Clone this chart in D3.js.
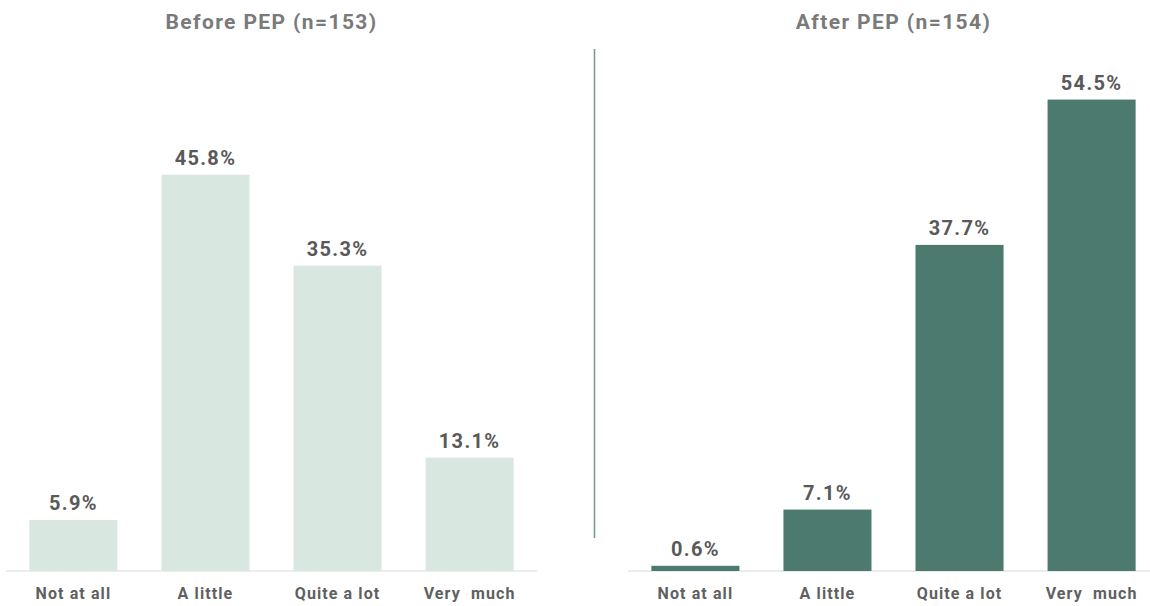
<!DOCTYPE html>
<html>
<head>
<meta charset="utf-8">
<script src="https://cdn.jsdelivr.net/npm/d3@7"></script>
<style>
  html, body { margin: 0; padding: 0; background: #ffffff; }
  svg { display: block; }
  text { font-family: Roboto, "Liberation Sans", Arial, sans-serif; font-weight: 700; }
</style>
</head>
<body>
<svg id="chart" width="1150" height="606"></svg>
<script>
// Survey responses before and after the programme (percent of respondents)
const categories = ["Not at all", "A little", "Quite a lot", "Very  much"];
const beforeValues = [5.9, 45.8, 35.3, 13.1];
const afterValues = [0.6, 7.1, 37.7, 54.5];
const panelTitles = ["Before PEP (n=153)", "After PEP (n=154)"];

const svg = d3.select("#chart");

const baselineY = 571;
const y = d3.scaleLinear().domain([0, 60]).range([baselineY, baselineY - 519]);

const panels = [
  { title: panelTitles[0], values: beforeValues, x0: 6, x1: 537, fill: "#d9e7e1" },
  { title: panelTitles[1], values: afterValues, x0: 628, x1: 1159, fill: "#4d7a6e" }
];

panels.forEach(p => {
  const x = d3.scaleBand()
    .domain(categories)
    .range([p.x0, p.x1])
    .paddingInner(1 / 3)
    .paddingOuter(0.177);

  const g = svg.append("g");

  // baseline
  g.append("line")
    .attr("x1", p.x0).attr("x2", p.x1)
    .attr("y1", baselineY).attr("y2", baselineY)
    .attr("stroke", "#d9d9d9").attr("stroke-width", 1);

  // bars
  g.selectAll("rect.bar")
    .data(p.values)
    .join("rect")
    .attr("class", "bar")
    .attr("x", (d, i) => x(categories[i]))
    .attr("width", x.bandwidth())
    .attr("y", d => y(d))
    .attr("height", d => baselineY - y(d))
    .attr("fill", p.fill);

  // value labels
  g.selectAll("text.val")
    .data(p.values)
    .join("text")
    .attr("class", "val")
    .attr("x", (d, i) => x(categories[i]) + x.bandwidth() / 2)
    .attr("y", d => y(d) - 10)
    .attr("text-anchor", "middle")
    .attr("font-size", 20)
    .attr("letter-spacing", "1.3px")
    .attr("fill", "#595959")
    .text(d => d.toFixed(1) + "%");

  // category axis labels
  const axis = d3.axisBottom(x).tickSize(0).tickPadding(0);
  const ax = g.append("g")
    .attr("transform", `translate(0,${baselineY})`)
    .call(axis);
  ax.select(".domain").remove();
  ax.selectAll("text")
    .attr("y", 28)
    .attr("dy", 0)
    .attr("font-size", 16)
    .attr("letter-spacing", "1.1px")
    .attr("fill", "#606060")
    .style("white-space", "pre")
    .attr("font-family", "Roboto, 'Liberation Sans', Arial, sans-serif")
    .attr("font-weight", 700);

  // panel title, centred over the bars
  const first = x(categories[0]);
  const last = x(categories[categories.length - 1]) + x.bandwidth();
  g.append("text")
    .attr("x", (first + last) / 2)
    .attr("y", 29)
    .attr("text-anchor", "middle")
    .attr("font-size", 21)
    .attr("letter-spacing", "1.4px")
    .attr("fill", "#7a7a7a")
    .text(p.title);
});

// divider between the two panels
svg.append("line")
  .attr("x1", 594.5).attr("x2", 594.5)
  .attr("y1", 49).attr("y2", 538)
  .attr("stroke", "#6f9a8e").attr("stroke-width", 1.5);
</script>
</body>
</html>
